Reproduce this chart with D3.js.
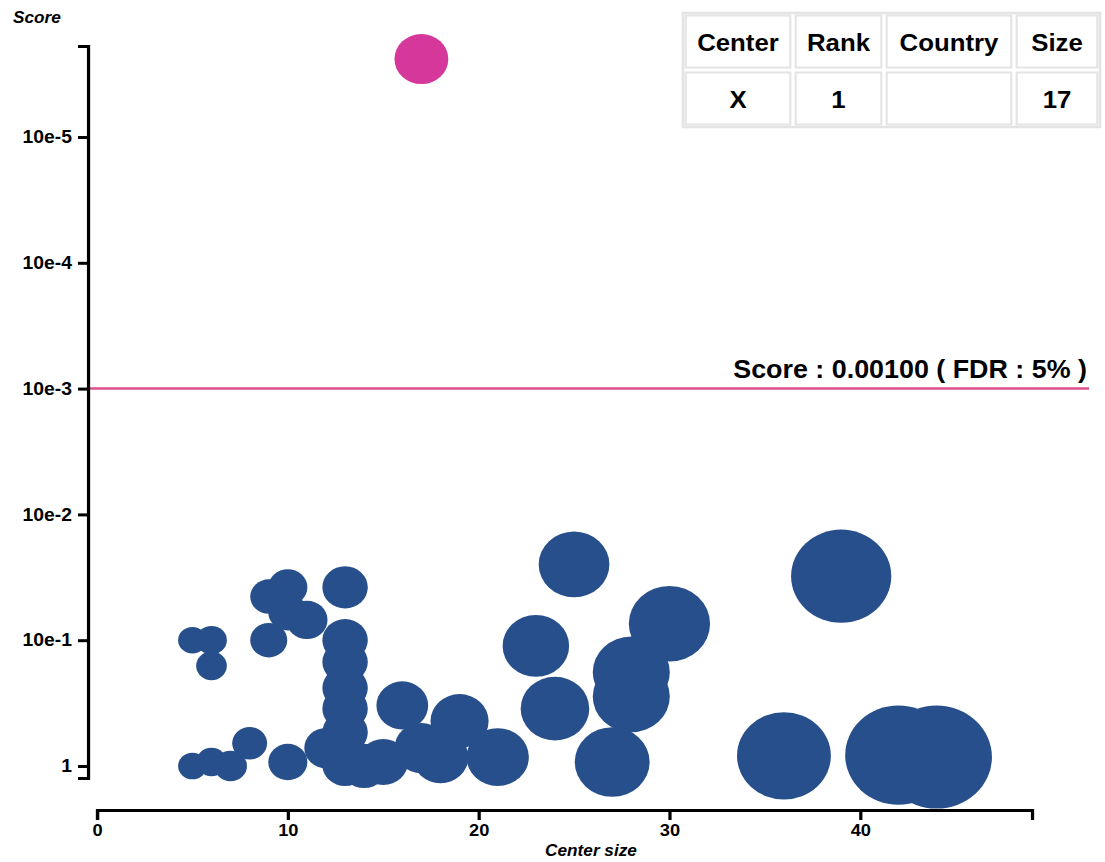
<!DOCTYPE html>
<html>
<head>
<meta charset="utf-8">
<script src="https://cdn.jsdelivr.net/npm/d3@7"></script>
<style>
  html, body { margin: 0; padding: 0; background: #fff; }
  svg { display: block; }
  text { font-family: "Liberation Sans", Arial, sans-serif; }
</style>
</head>
<body>
<svg id="chart" width="1105" height="862"></svg>
<script>
// Centers: size of each center and its score
const centerSizes  = [5, 6, 6, 9, 10, 10, 11, 9, 13, 13, 13, 13, 13, 13,
                      5, 6, 7, 8, 10, 12, 13, 14, 15, 16, 17, 18, 19, 21,
                      23, 24, 25, 27, 28, 28, 30, 36, 39, 42, 44];
const centerScores = [0.10, 0.10, 0.16, 0.045, 0.038, 0.060, 0.069, 0.10, 0.038, 0.10, 0.149, 0.24, 0.35, 0.54,
                      1.0, 0.93, 1.0, 0.66, 0.93, 0.72, 0.98, 1.0, 0.93, 0.33, 0.72, 0.85, 0.44, 0.85,
                      0.111, 0.35, 0.025, 0.93, 0.18, 0.28, 0.074, 0.83, 0.031, 0.82, 0.85];

// Top-ranked center
const topCenterSize  = 17;
const topCenterScore = 2.4e-6;

// Significance threshold
const thresholdScore = 0.001;
const thresholdLabel = "Score : 0.00100 ( FDR : 5% )";

// Axis ticks
const xTicks = [0, 10, 20, 30, 40];
const yTicks = [1, 0.1, 0.01, 0.001, 1e-4, 1e-5];
const yTickLabels = ["1", "10e-1", "10e-2", "10e-3", "10e-4", "10e-5"];

// Summary table
const tableHeaders = ["Center", "Rank", "Country", "Size"];
const tableRow = ["X", "1", "", "17"];

// ---- layout ----
const sx = 1.075;               // horizontal stretch of the drawing
const px = v => v / sx;         // page x -> inner x
const navy = "#274f8b";
const pink = "#d6379a";
const lineColor = "#e0508c";
const fontStack = '"Liberation Sans", Arial, sans-serif';

const svg = d3.select("#chart");
const g = svg.append("g").attr("transform", `scale(${sx},1)`);

const x = d3.scaleLinear().domain([0, 49]).range([px(97), px(1032)]);
const y = d3.scaleLog().domain([1.246, 1.89e-6]).range([778, 46]);
const r = d3.scaleLinear().domain([5, 44]).range([13.3, 51.5]);

// Bubbles
const centers = centerSizes.map((s, i) => ({ size: s, score: centerScores[i] }));
g.append("g").selectAll("circle")
  .data(centers)
  .join("circle")
  .attr("cx", d => x(d.size))
  .attr("cy", d => y(d.score))
  .attr("r", d => r(d.size))
  .attr("fill", navy);

g.append("circle")
  .attr("cx", x(topCenterSize))
  .attr("cy", y(topCenterScore))
  .attr("r", r(topCenterSize))
  .attr("fill", pink);

// Threshold line
g.append("line")
  .attr("x1", px(88)).attr("x2", px(1089))
  .attr("y1", y(thresholdScore)).attr("y2", y(thresholdScore))
  .attr("stroke", lineColor).attr("stroke-width", 2.5);

g.append("text")
  .attr("x", px(1087)).attr("y", y(thresholdScore) - 11)
  .attr("text-anchor", "end")
  .attr("font-size", 25).attr("font-weight", "bold")
  .attr("fill", "#000")
  .text(thresholdLabel);

// Axes
function styleAxis(sel, size) {
  sel.selectAll("path, line").attr("stroke", "#000").attr("stroke-width", 3);
  sel.selectAll("text")
    .attr("font-size", size).attr("font-weight", "bold")
    .attr("font-family", fontStack).attr("fill", "#000");
}

const xAxis = g.append("g")
  .attr("transform", "translate(0,810)")
  .call(d3.axisBottom(x).tickValues(xTicks).tickSize(10).tickSizeOuter(10).tickPadding(4));
styleAxis(xAxis, 17);

const yAxis = g.append("g")
  .attr("transform", `translate(${px(88)},0)`)
  .call(d3.axisLeft(y).tickValues(yTicks).tickFormat((d, i) => yTickLabels[i])
        .tickSize(px(10)).tickSizeOuter(px(10)).tickPadding(px(6)));
styleAxis(yAxis, 18);

// Axis titles
g.append("text")
  .attr("x", px(13)).attr("y", 23)
  .attr("font-size", 16).attr("font-weight", "bold").attr("font-style", "italic")
  .text("Score");

g.append("text")
  .attr("x", px(591)).attr("y", 856)
  .attr("text-anchor", "middle")
  .attr("font-size", 16).attr("font-weight", "bold").attr("font-style", "italic")
  .text("Center size");

// Table
const colEdges = [683, 793, 884, 1014, 1100].map(px);
const rowEdges = [13, 70, 127];
const table = g.append("g");
table.append("rect")
  .attr("x", colEdges[0]).attr("y", rowEdges[0])
  .attr("width", colEdges[4] - colEdges[0]).attr("height", rowEdges[2] - rowEdges[0])
  .attr("fill", "#fff").attr("stroke", "#e4e4e4").attr("stroke-width", 2.5);

const rows = [tableHeaders, tableRow];
rows.forEach((row, ri) => {
  row.forEach((val, ci) => {
    const x0 = colEdges[ci], x1 = colEdges[ci + 1];
    const y0 = rowEdges[ri], y1 = rowEdges[ri + 1];
    table.append("rect")
      .attr("x", x0 + 2.5).attr("y", y0 + 2.5)
      .attr("width", x1 - x0 - 5).attr("height", y1 - y0 - 5)
      .attr("fill", "none").attr("stroke", "#e4e4e4").attr("stroke-width", 2);
    table.append("text")
      .attr("x", (x0 + x1) / 2).attr("y", y0 + 38)
      .attr("text-anchor", "middle")
      .attr("font-size", 24).attr("font-weight", "bold")
      .attr("fill", "#000")
      .text(val);
  });
});
</script>
</body>
</html>
